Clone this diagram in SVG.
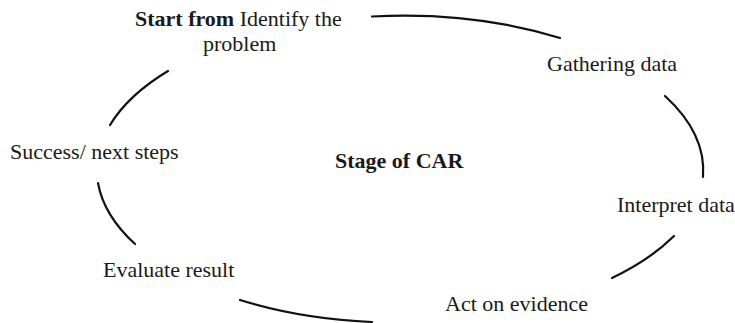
<svg xmlns="http://www.w3.org/2000/svg" width="735" height="323" viewBox="0 0 735 323">
<style>
.t{font-family:"Liberation Serif","Times New Roman",serif;font-size:22px;fill:#1a1a1a}
.b{font-weight:bold}
.c{fill:none;stroke:#111;stroke-width:2.2;stroke-linecap:round}
</style>
<rect width="735" height="323" fill="#fff"/>
<g id="connectors">
<path class="c" d="M372,16.5 A303,154 0 0 1 560,38"/>
<path class="c" d="M665,96 A303,154 0 0 1 703,177"/>
<path class="c" d="M674,236 A303,154 0 0 1 612,278"/>
<path class="c" d="M372,322 A303,154 0 0 1 240,300"/>
<path class="c" d="M135,244 A303,154 0 0 1 98,183"/>
<path class="c" d="M110,125 A303,154 0 0 1 168,71"/>
</g>
<g id="node-start">
<text class="t" x="135" y="26"><tspan class="b">Start from</tspan> Identify the</text>
<text class="t" x="203" y="51">problem</text>
</g>
<g id="node-gathering"><text class="t" x="547" y="71">Gathering data</text></g>
<g id="node-interpret"><text class="t" x="617" y="212">Interpret data</text></g>
<g id="node-act"><text class="t" x="445" y="311">Act on evidence</text></g>
<g id="node-evaluate"><text class="t" x="103" y="277">Evaluate result</text></g>
<g id="node-success"><text class="t" x="10" y="159">Success/ next steps</text></g>
<g id="center"><text class="t b" x="335" y="168">Stage of CAR</text></g>
</svg>
